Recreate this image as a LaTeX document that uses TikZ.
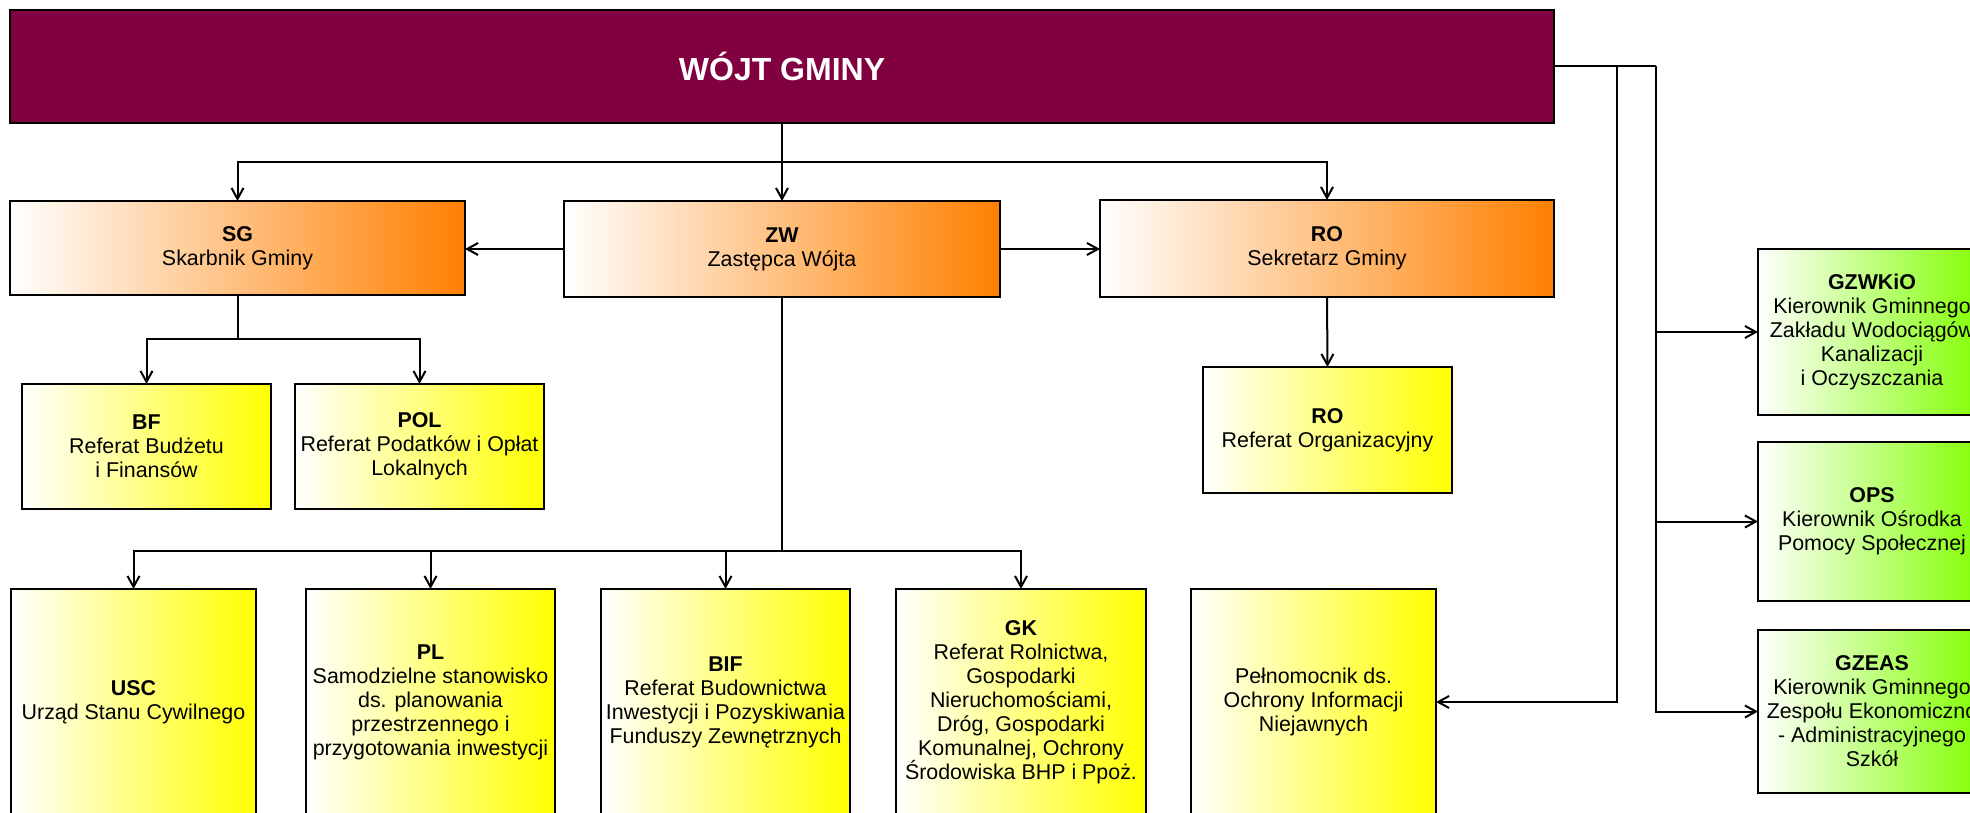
\documentclass[tikz,border=0pt]{standalone}
\usepackage{fontspec}
\setmainfont{Liberation Sans}
\usetikzlibrary{arrows.meta}
\definecolor{wojt}{RGB}{128,0,64}
\definecolor{orng}{RGB}{255,128,0}
\definecolor{yel}{RGB}{255,255,0}
\definecolor{grn}{RGB}{128,255,0}
\newcommand\bx[7]{\node[#1, minimum width={(#5-#3)*0.5pt}, minimum height={(#6-#4)*0.5pt}] (#2) at ({(#3+#5)/2},{(#4+#6)/2}) {#7};}
\tikzset{
  base/.style={draw=black, line width=1pt, inner sep=0pt, outer sep=0pt, align=center,
    font=\fontsize{10.7}{12}\selectfont},
  topbox/.style={base, fill=wojt, text=white, font=\bfseries\fontsize{16}{19}\selectfont},
  obox/.style={base, left color=white, right color=orng},
  ybox/.style={base, left color=white, right color=yel},
  gbox/.style={base, left color=white, right color=grn},
  line/.style={draw=black, line width=1pt},
  arr/.style={line, -{Straight Barb[length=5.5pt,width=6pt,line width=1pt]}}
}
\begin{document}
\begin{tikzpicture}[x=0.5pt,y=-0.5pt]
\path[use as bounding box] (0,0) rectangle (1970,813);
\clip (0,0) rectangle (1970,813);
% boxes
\bx{topbox}{W}{10}{10}{1554}{123}{WÓJT GMINY}
\bx{obox}{SG}{10}{201}{465}{295}{\textbf{SG}\\Skarbnik Gminy}
\bx{obox}{ZW}{564}{201}{1000}{297}{\textbf{ZW}\\Zastępca Wójta}
\bx{obox}{RO}{1100}{200}{1554}{297}{\textbf{RO}\\Sekretarz Gminy}
\bx{ybox}{BF}{22}{384}{271}{509}{\textbf{BF}\\Referat Budżetu\\i Finansów}
\bx{ybox}{POL}{295}{384}{544}{509}{\textbf{POL}\\Referat Podatków i Opłat\\Lokalnych}
\bx{ybox}{ROR}{1203}{367}{1452}{493}{\textbf{RO}\\Referat Organizacyjny}
\bx{ybox}{USC}{11}{589}{256}{815}{\textbf{USC}\\Urząd Stanu Cywilnego}
\bx{ybox}{PL}{306}{589}{555}{815}{\textbf{PL}\\Samodzielne stanowisko\\ds. planowania\\przestrzennego i\\przygotowania inwestycji}
\bx{ybox}{BIF}{601}{589}{850}{815}{\textbf{BIF}\\Referat Budownictwa\\Inwestycji i Pozyskiwania\\Funduszy Zewnętrznych}
\bx{ybox}{GK}{896}{589}{1146}{815}{\textbf{GK}\\Referat Rolnictwa,\\Gospodarki\\Nieruchomościami,\\Dróg, Gospodarki\\Komunalnej, Ochrony\\Środowiska BHP i Ppoż.}
\bx{ybox}{PEL}{1191}{589}{1436}{815}{Pełnomocnik ds.\\Ochrony Informacji\\Niejawnych}
\bx{gbox}{GZ}{1758}{249}{1986}{415}{\textbf{GZWKiO}\\Kierownik Gminnego\\Zakładu Wodociągów\\Kanalizacji\\i Oczyszczania}
\bx{gbox}{OPS}{1758}{442}{1986}{601}{\textbf{OPS}\\Kierownik Ośrodka\\Pomocy Społecznej}
\bx{gbox}{GZEAS}{1758}{630}{1986}{793}{\textbf{GZEAS}\\Kierownik Gminnego\\Zespołu Ekonomiczno\\- Administracyjnego\\Szkół}
% junctions
\coordinate (j1) at (782,162);
\coordinate (j2) at (237.5,339);
\coordinate (j3) at (782,551);
\coordinate (r1) at (1617,66.5);
\coordinate (r2) at (1656,66.5);
% connectors
\draw[arr] (W.south) -- (ZW.north);
\draw[arr] (j1) -| (SG.north);
\draw[arr] (j1) -| (RO.north);
\draw[arr] (ZW.west) -- (ZW.west -| SG.east);
\draw[arr] (ZW.east) -- (ZW.east -| RO.west);
\draw[line] (SG.south) -- (j2);
\draw[arr] (j2) -| (BF.north);
\draw[arr] (j2) -| (POL.north);
\draw[arr] (RO.south) -- (ROR.north);
\draw[line] (ZW.south) -- (j3);
\draw[arr] (j3) -| (USC.north);
\draw[arr] (j3) -| (PL.north);
\draw[arr] (j3) -| (BIF.north);
\draw[arr] (j3) -| (GK.north);
\draw[line] (W.east) -- (r2);
\draw[arr] (r1) |- (PEL.east);
\draw[arr] (r2) |- (GZ.west);
\draw[arr] (r2) |- (OPS.west);
\draw[arr] (r2) |- (GZEAS.west);
\end{tikzpicture}
\end{document}
